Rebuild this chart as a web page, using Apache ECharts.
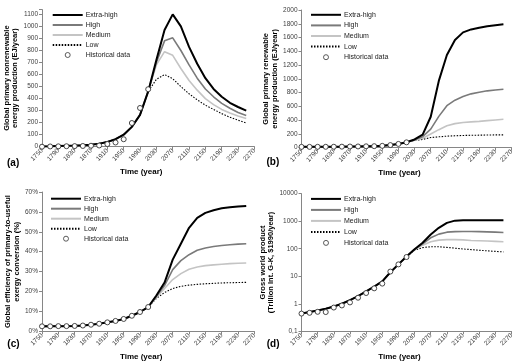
<!DOCTYPE html>
<html><head><meta charset="utf-8">
<script src="https://cdn.jsdelivr.net/npm/echarts@6/dist/echarts.min.js"></script>
<style>html,body{margin:0;padding:0;background:#fff}#c{width:520px;height:364px}</style>
</head><body><div id="c"></div>
<script>
const years = [1750,1770,1790,1810,1830,1850,1870,1890,1910,1930,1950,1970,1990,2010,2030,2050,2070,2090,2110,2130,2150,2170,2190,2210,2230,2250,2270];
const scenarioNames = ['Extra-high','High','Medium','Low'];
const histName = 'Historical data';

// (a) nonrenewable energy production, EJ/year
const aExtraHigh = [2,3,5,7,9,12,17,25,40,62,100,165,265,460,720,970,1100,1000,830,690,570,480,415,365,330,300];
const aHigh      = [2,3,5,7,9,12,17,25,40,62,100,165,265,460,700,880,905,800,680,570,480,415,360,320,285,260];
const aMedium    = [2,3,5,7,9,12,17,25,40,62,100,165,265,460,680,790,760,650,550,470,400,350,310,280,255,235];
const aLow       = [2,3,5,7,9,12,17,25,40,62,100,165,265,460,560,600,565,500,440,390,345,310,275,245,220,197];
const aHist      = [0,2,3,4,5,6,8,10,22,35,62,197,322,478];

// (b) renewable energy production, EJ/year
const bExtraHigh = [12,12,13,13,14,15,17,18,20,22,27,38,55,80,120,190,450,970,1346,1564,1675,1718,1742,1765,1780,1792];
const bHigh      = [12,12,13,13,14,15,17,18,20,22,27,38,55,80,115,160,270,455,610,690,744,782,806,826,838,850];
const bMedium    = [12,12,13,13,14,15,17,18,20,22,27,38,55,80,110,138,200,262,320,350,365,375,383,393,403,413];
const bLow       = [12,12,13,13,14,15,17,18,20,22,27,38,55,80,105,120,148,158,168,173,178,180,182,184,186,187];
const bHist      = [12,12,13,13,14,15,17,18,20,22,27,38,55,78];

// (c) efficiency of primary-to-useful exergy conversion, %
const cExtraHigh = [2.5,2.5,2.6,2.6,2.7,2.9,3.3,3.8,4.5,5.2,6.2,7.8,9.7,12.2,18,24.5,36,44,52,57,59.5,60.8,61.8,62.3,62.7,63];
const cHigh      = [2.5,2.5,2.6,2.6,2.7,2.9,3.3,3.8,4.5,5.2,6.2,7.8,9.7,12.2,17.5,23,31,35.5,38.5,40.7,41.9,42.6,43.1,43.5,43.8,44];
const cMedium    = [2.5,2.5,2.6,2.6,2.7,2.9,3.3,3.8,4.5,5.2,6.2,7.8,9.7,12.2,17,21.5,26,29,31.2,32.3,33,33.4,33.7,34,34.2,34.3];
const cLow       = [2.5,2.5,2.6,2.6,2.7,2.9,3.3,3.8,4.5,5.2,6.2,7.8,9.7,12.2,16.5,19.5,21.5,22.6,23.2,23.6,23.9,24.1,24.3,24.4,24.5,24.6];
const cHist      = [2.5,2.5,2.6,2.6,2.7,2.9,3.3,3.8,4.5,5.2,6.2,7.8,9.7,12.2];

// (d) gross world product, trillion Int. G-K $1990/year
const dExtraHigh = [0.44,0.5,0.57,0.66,0.8,1.0,1.35,1.9,2.8,4.2,6.5,14,27,52,96,165,330,575,870,1050,1080,1080,1080,1080,1080,1080];
const dHigh      = [0.44,0.5,0.57,0.66,0.8,1.0,1.35,1.9,2.8,4.2,6.5,14,27,52,95,150,250,340,400,420,425,425,420,410,400,390];
const dMedium    = [0.44,0.5,0.57,0.66,0.8,1.0,1.35,1.9,2.8,4.2,6.5,14,27,52,92,135,180,205,215,215,210,200,195,190,185,180];
const dLow       = [0.44,0.5,0.57,0.66,0.8,1.0,1.35,1.9,2.8,4.2,6.5,14,27,52,88,110,118,118,112,105,98,93,88,84,80,77];
const dHist      = [0.44,0.47,0.51,0.50,0.73,0.87,1.12,1.66,2.46,3.64,5.4,14.8,27,50];

const yTitles = ['Global primary nonrenewable\nenergy production (EJ/year)',
                 'Global primary renewable\nenergy production (EJ/year)',
                 'Global efficiency of primary-to-useful\nexergy conversion (%)',
                 'Gross world product\n(Trillion Int. G-K, $1990/year)'];
const panelLabels = ['(a)','(b)','(c)','(d)'];

const FONT = '"Liberation Sans", Arial, sans-serif';
const AXC = '#868686';
const lineStyles = [
  {color:'#000000', width:2, type:'solid'},
  {color:'#7a7a7a', width:1.6, type:'solid'},
  {color:'#c4c4c4', width:1.6, type:'solid'},
  {color:'#000000', width:1.1, type:[1.5,1.5]}
];
const panels = [
  {lines:[aExtraHigh,aHigh,aMedium,aLow], hist:aHist},
  {lines:[bExtraHigh,bHigh,bMedium,bLow], hist:bHist},
  {lines:[cExtraHigh,cHigh,cMedium,cLow], hist:cHist},
  {lines:[dExtraHigh,dHigh,dMedium,dLow], hist:dHist}
];

const grids = [
  {left:42, top:9.6, width:212.4, height:137.1},
  {left:301.5, top:10, width:210, height:137.7},
  {left:42, top:192, width:212.4, height:139.3},
  {left:301.5, top:193.7, width:210, height:137.6}
];

const xAxes = grids.map((g,i)=>({
  type:'category', gridIndex:i, data:years, boundaryGap:false,
  axisLine:{lineStyle:{color:AXC}},
  axisTick:{show:true, interval:1, length:3, lineStyle:{color:AXC}},
  axisLabel:{interval:1, rotate:45, fontSize:6.5, color:'#404040', fontFamily:FONT, margin:3},
  name:'Time (year)', nameLocation:'middle', nameGap:21,
  nameTextStyle:{fontSize:8, fontWeight:'bold', color:'#000', fontFamily:FONT, padding:[0,14,0,0]}
}));

const yBase = {
  axisLine:{show:true, lineStyle:{color:AXC}},
  axisTick:{show:true, length:3, lineStyle:{color:AXC}},
  splitLine:{show:false},
  nameLocation:'middle', nameRotate:90,
  nameTextStyle:{fontSize:7.5, fontWeight:'bold', color:'#000', fontFamily:FONT, lineHeight:8.5}
};
const lbl = {fontSize:6.5, color:'#404040', fontFamily:FONT, margin:4};
const yAxes = [
  Object.assign({}, yBase, {type:'value', gridIndex:0, min:0, max:1140, interval:100, name:yTitles[0], nameGap:15,
    axisLabel:Object.assign({}, lbl, {formatter:v => (v % 100 === 0 ? String(v) : '')})}),
  Object.assign({}, yBase, {type:'value', gridIndex:1, min:0, max:2000, interval:200, name:yTitles[1], nameGap:19,
    axisLabel:Object.assign({}, lbl, {formatter:v => String(v)})}),
  Object.assign({}, yBase, {type:'value', gridIndex:2, min:0, max:70, interval:10, name:yTitles[2], nameGap:15,
    axisLabel:Object.assign({}, lbl, {formatter:v => v + '%'})}),
  Object.assign({}, yBase, {type:'log', logBase:10, gridIndex:3, min:0.1, max:10000, name:yTitles[3], nameGap:14,
    axisLabel:Object.assign({}, lbl, {formatter:v => (v < 1 ? '0,1' : String(Math.round(v)))})})
];

const series = [];
panels.forEach((p,i)=>{
  p.lines.forEach((d,k)=>{
    series.push({type:'line', name:scenarioNames[k], xAxisIndex:i, yAxisIndex:i, data:d,
      symbol:'none', lineStyle:lineStyles[k], itemStyle:{color:lineStyles[k].color},
      silent:true, animation:false, z:2+(3-k)});
  });
  series.push({type:'scatter', name:histName, xAxisIndex:i, yAxisIndex:i, data:p.hist,
    symbol:'circle', symbolSize:5,
    itemStyle:{color:'#ffffff', borderColor:'#333333', borderWidth:0.9, opacity:1},
    animation:false, z:10});
});

const legendPos = [
  {left:51.7, top:10, lh:10},
  {left:310, top:9.5, lh:10.6},
  {left:50, top:193.7, lh:10},
  {left:310, top:193.4, lh:11}
];
const legendData = scenarioNames.map(n => ({name:n, itemStyle:{opacity:0}}))
  .concat([{name:histName, itemStyle:{color:'#ffffff', borderColor:'#333333', borderWidth:0.8}}]);
const legends = legendPos.map(p=>({
  orient:'vertical', left:p.left, top:p.top, itemWidth:30, itemHeight:5, itemGap:0, padding:0,
  data:legendData, selectedMode:false,
  textStyle:{fontSize:7, color:'#222', fontFamily:FONT, lineHeight:p.lh, padding:[0,0,0,-2]}
}));

const labelPos = [[13,164],[272.5,163.5],[13.3,345.5],[272.7,345.5]];
const graphics = labelPos.map((p,i)=>({
  type:'text', left:p[0]-6, top:p[1]-6,
  style:{text:panelLabels[i], fontSize:10, fontWeight:'bold', fill:'#000', font:'bold 10px "Liberation Sans", Arial, sans-serif'}
}));

const chart = echarts.init(document.getElementById('c'), null, {renderer:'canvas'});
chart.setOption({
  animation:false,
  backgroundColor:'#ffffff',
  grid:grids, xAxis:xAxes, yAxis:yAxes, series:series, legend:legends, graphic:graphics
});
</script>
</body></html>
